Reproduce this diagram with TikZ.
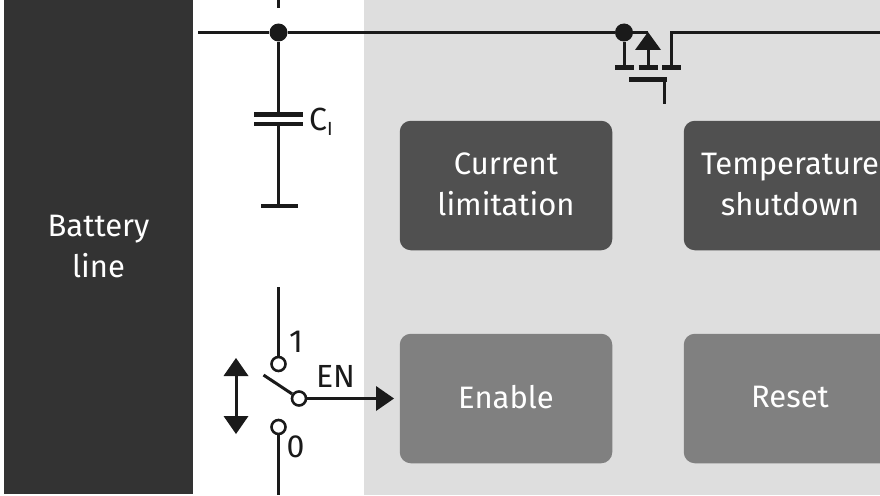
\documentclass[tikz,border=0pt]{standalone}
\usepackage{fontspec}
\setmainfont{Fira Sans}
\usetikzlibrary{arrows.meta}
\definecolor{batt}{HTML}{333333}
\definecolor{panel}{HTML}{DEDEDE}
\definecolor{darkbox}{HTML}{505050}
\definecolor{midbox}{HTML}{808080}
\definecolor{ink}{HTML}{1A1A1A}
\tikzset{
 wire/.style={draw=ink,line width=3pt},
 plate/.style={draw=ink,line width=4.6pt},
 blocktext/.style={yshift=1pt,inner sep=0pt,align=center,text=white,font=\fontsize{31}{41}\selectfont},
 blockd/.style={fill=darkbox,rounded corners=11pt,minimum width=212.5pt,minimum height=129.5pt,inner sep=0pt},
 blockm/.style={fill=midbox,rounded corners=11pt,minimum width=212.5pt,minimum height=129.5pt,inner sep=0pt},
 lbl/.style={text=ink,inner sep=0pt,font=\fontsize{32}{34}\selectfont},
 dotb/.style={circle,fill=ink,minimum size=18pt,inner sep=0pt},
 ring/.style={circle,draw=ink,fill=white,line width=2.6pt,minimum size=14pt,inner sep=0pt},
 head/.style={fill=ink,draw=none}
}
\begin{document}
\begin{tikzpicture}[x=1pt,y=-1pt]
\useasboundingbox (0,0) rectangle (880,495);
\fill[white] (0,0) rectangle (880,495);
\fill[panel] (364,0) rectangle (880,495);
\node[fill=batt,minimum width=189pt,minimum height=495pt,inner sep=0pt,align=center,text=white,font=\fontsize{31}{41}\selectfont] (battery) at (98.5,246.5) {Battery\\line};
\node[blockd,label={[blocktext]center:Current\\limitation}] (cur) at (506,185.5) {};
\node[blockd,label={[blocktext]center:Temperature\\shutdown}] (temp) at (790,185.5) {};
\node[blockm,label={[blocktext]center:Enable}] (ena) at (506,398.5) {};
\node[blockm,label={[blocktext]center:Reset}] (res) at (790,398.5) {};
% bus
\coordinate (busL) at (198,32.5);
\coordinate (stubT) at (278.5,0);
\coordinate (stubB) at (278.5,8);
\node[dotb] (j1) at (278.5,32.5) {};
\node[dotb] (j2) at (624,32.5) {};
\coordinate (dl) at (624,67);
\coordinate (dr) at (671,67);
\coordinate (busR) at (880,32.5);
\draw[wire] (busL) -- (j1) -- (j2) -- (648,32.5);
\draw[wire] (stubT) -- (stubB);
\draw[wire] (j2) -- (dl);
\draw[wire] (dr) -- (671,32.5) -- (busR);
% mosfet
\draw[plate] (615,67.5) -- (634,67.5);
\draw[plate] (638.5,67.5) -- (658,67.5);
\draw[plate] (662,67.5) -- (681,67.5);
\draw[line width=5pt,draw=ink] (629,79) -- (667,79);
\draw[wire] (664.5,79) -- (664.5,104);
\draw[wire] (648,48) -- (648,67);
\fill[head] (648,32) -- (661,50) -- (635,50) -- cycle;
% capacitor
\coordinate (capT) at (278.5,113);
\coordinate (capB) at (278.5,123);
\node[inner sep=0pt,minimum size=0pt] (gnd) at (278.5,206) {};
\draw[wire] (j1) -- (capT);
\draw[wire] (capB) -- (gnd);
\draw[plate] (254,114.5) -- (303,114.5);
\draw[line width=4pt,draw=ink] (254,123.5) -- (303,123.5);
\draw[plate] (261,206) -- (298,206);
\node[lbl,anchor=base west] (ci) at (309,130) {C\raisebox{-5pt}{\fontsize{19}{19}\selectfont I}};
% switch
\node[ring] (s1) at (278.5,364) {};
\node[ring] (s0) at (278.5,427) {};
\node[ring] (sc) at (299,398.5) {};
\coordinate (topw) at (278.5,287);
\coordinate (botw) at (278.5,495);
\coordinate (arm) at (263.5,375);
\draw[wire] (topw) -- (s1);
\draw[wire] (s0) -- (botw);
\draw[wire] (arm) -- (sc);
\coordinate (enEnd) at (380,398.5);
\draw[wire] (sc) -- (enEnd);
\fill[head] (376,386) -- (394,398.5) -- (376,411) -- cycle;
\node[lbl,anchor=base] (en) at (335.5,387) {EN};
\node[lbl,anchor=base] (n1) at (296,352) {1};
\node[lbl,anchor=base] (n0) at (295.5,457) {0};
% double arrow
\coordinate (da) at (236,370);
\coordinate (db) at (236,422);
\draw[wire] (da) -- (db);
\fill[head] (236,358) -- (248.5,376) -- (223.5,376) -- cycle;
\fill[head] (236,434) -- (248.5,416) -- (223.5,416) -- cycle;
\end{tikzpicture}
\end{document}
